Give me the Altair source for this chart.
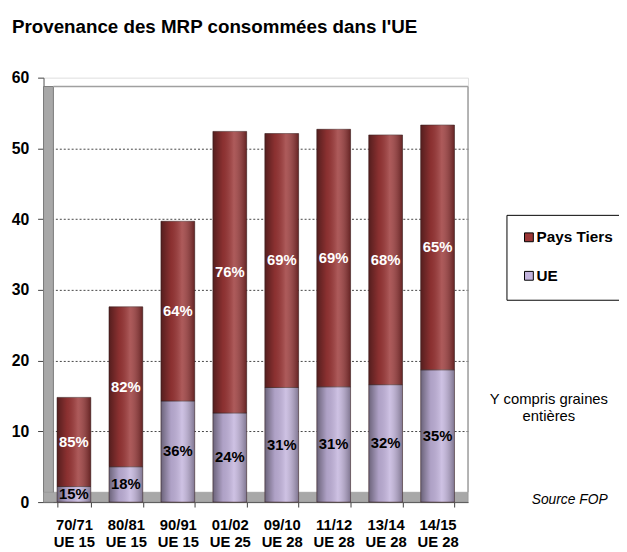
import altair as alt
import pandas as pd

# ---- data ----
periods = ["70/71", "80/81", "90/91", "01/02", "09/10", "11/12", "13/14", "14/15"]
zones = ["UE 15", "UE 15", "UE 15", "UE 25", "UE 28", "UE 28", "UE 28", "UE 28"]
ue_values = [2.2, 5.0, 14.3, 12.6, 16.2, 16.3, 16.6, 18.7]
tiers_values = [12.6, 22.6, 25.4, 39.8, 35.9, 36.4, 35.3, 34.6]
ue_pct = ["15%", "18%", "36%", "24%", "31%", "31%", "32%", "35%"]
tiers_pct = ["85%", "82%", "64%", "76%", "69%", "69%", "68%", "65%"]
series_names = ["Pays Tiers", "UE"]
series_colors = ["#9b3636", "#c3b4dd"]
y_ticks = [0, 10, 20, 30, 40, 50, 60]

title_text = "Provenance des MRP consommées dans l'UE"
note_text = "Y compris graines\nentières"
source_text = "Source FOP"

FONT = "Liberation Sans"

rows = []
for i, p in enumerate(periods):
    cat = p + "|" + zones[i]
    rows.append(dict(cat=cat, series="UE", y0=0.0, y1=ue_values[i], label=ue_pct[i]))
    rows.append(dict(cat=cat, series="Pays Tiers", y0=ue_values[i],
                     y1=ue_values[i] + tiers_values[i], label=tiers_pct[i]))
df = pd.DataFrame(rows)
df["mid"] = (df["y0"] + df["y1"]) / 2
cat_order = [p + "|" + z for p, z in zip(periods, zones)]

W, H = 430, 430

x_enc = alt.X(
    "cat:N", sort=cat_order,
    scale=alt.Scale(paddingInner=0.35, paddingOuter=0.26),
    axis=alt.Axis(
        title=None, labelExpr="datum.value ? split(datum.value, '|') : ''", labelAngle=0,
        labelFont=FONT, labelFontSize=15, labelFontWeight="bold", labelColor="black",
        labelLineHeight=17, labelPadding=11, tickBand="extent", tickSize=5,
        tickColor="#404040", domainColor="#404040",
    ),
)
y_scale = alt.Scale(domain=[0, 60], nice=False)
y_enc = alt.Y(
    "y0:Q", scale=y_scale,
    axis=alt.Axis(
        title=None, values=y_ticks, labelFont=FONT, labelFontSize=16,
        labelFontWeight="bold", labelColor="black", labelPadding=9, tickSize=6,
        tickColor="#404040", domainColor="#606060",
        grid=True, gridDash=[2, 2], gridColor="#444444",
        gridOpacity={"condition": {"test": "datum.value == 0 || datum.value == 60", "value": 0}, "value": 1},
    ),
)

one = alt.Data(values=[{"a": 1}])

left_wall = alt.Chart(one).mark_rect(color="#a8a8a8", stroke="#7a7a7a", strokeWidth=1).encode(
    x=alt.value(0), x2=alt.value(10), y=alt.value(9), y2=alt.value(H))
floor = alt.Chart(one).mark_rect(color="#a8a8a8", stroke="#8a8a8a", strokeWidth=0.5).encode(
    x=alt.value(0), x2=alt.value(W), y=alt.value(H - 10), y2=alt.value(H))
top_line = alt.Chart(one).mark_rule(color="#a0a0a0", strokeWidth=1.5).encode(
    x=alt.value(10), x2=alt.value(W), y=alt.value(9))
right_line = alt.Chart(one).mark_rule(color="#a0a0a0", strokeWidth=1.5).encode(
    x=alt.value(W), y=alt.value(9), y2=alt.value(H - 10))

bars = alt.Chart(df).mark_bar(stroke="#4a3030", strokeWidth=0.6).encode(
    x=x_enc, y=y_enc, y2="y1:Q",
    color=alt.Color(
        "series:N",
        scale=alt.Scale(domain=series_names, range=series_colors),
        legend=alt.Legend(
            orient="none", legendX=469, legendY=139, title=None, direction="vertical",
            symbolType="square", symbolSize=80, symbolStrokeColor="black",
            symbolStrokeWidth=1, labelFont=FONT, labelFontSize=15.5,
            labelFontWeight="bold", labelColor="black", strokeColor="black",
            fillColor="white", padding=15, rowPadding=22, labelOffset=0,
        ),
    ),
)

shade = alt.Chart(df).mark_bar(
    fill=alt.Gradient(
        gradient="linear", x1=0, x2=1, y1=0, y2=0,
        stops=[
            alt.GradientStop(color="rgba(0,0,0,0.45)", offset=0),
            alt.GradientStop(color="rgba(0,0,0,0.10)", offset=0.3),
            alt.GradientStop(color="rgba(255,255,255,0.18)", offset=0.62),
            alt.GradientStop(color="rgba(0,0,0,0.35)", offset=1),
        ],
    )
).encode(x=alt.X("cat:N", sort=cat_order), y=alt.Y("y0:Q"), y2="y1:Q")

labels = alt.Chart(df).mark_text(font=FONT, fontSize=15, fontWeight="bold").encode(
    x=alt.X("cat:N", sort=cat_order), y=alt.Y("mid:Q"), text="label:N",
    color=alt.condition(alt.datum.series == "UE", alt.value("black"), alt.value("white")),
)

title = alt.Chart(alt.Data(values=[{"t": title_text}])).mark_text(
    font=FONT, fontSize=19, fontWeight="bold", align="left", baseline="alphabetic", color="black"
).encode(x=alt.value(-32), y=alt.value(-45), text="t:N")

note = alt.Chart(alt.Data(values=[{"t": note_text}])).mark_text(
    font=FONT, fontSize=15, align="center", baseline="alphabetic", color="black",
    lineBreak="\n", lineHeight=17,
).encode(x=alt.value(512), y=alt.value(331), text="t:N")

source = alt.Chart(alt.Data(values=[{"t": source_text}])).mark_text(
    font=FONT, fontSize=14, fontStyle="italic", align="center", baseline="alphabetic", color="black"
).encode(x=alt.value(533), y=alt.value(432), text="t:N")

chart = alt.layer(
    left_wall, floor, top_line, right_line, bars, shade, labels, title, note, source
).properties(
    width=W, height=H, autosize="none",
    padding={"left": 36, "top": 67, "right": 153, "bottom": 47},
).configure_view(stroke=None).configure(font=FONT)

chart.save("out.html", embed_options={"renderer": "svg", "actions": False})
